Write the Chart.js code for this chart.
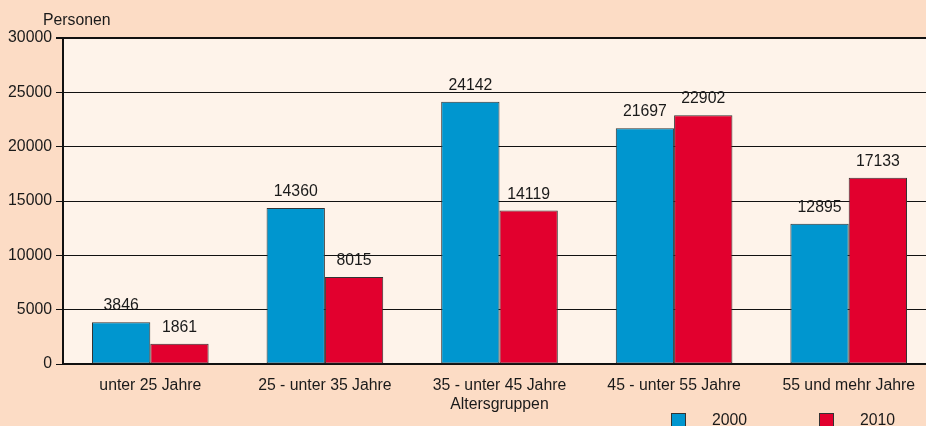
<!DOCTYPE html>
<html lang="de">
<head>
<meta charset="utf-8">
<title>Personen nach Altersgruppen</title>
<script src="https://cdn.jsdelivr.net/npm/chart.js@4"></script>
<style>
  html, body {
    margin: 0;
    padding: 0;
    width: 926px;
    height: 426px;
    overflow: hidden;
    background: #fcdcc5;
    font-family: "Liberation Sans", Arial, sans-serif;
  }
  #wrap { position: relative; width: 926px; height: 426px; overflow: hidden; }
  #chart { position: absolute; left: 0; top: 0; }
  .lbl { position: absolute; font-size: 15.8px; line-height: 1; color: #1a1a1a; white-space: nowrap; }
  .box { position: absolute; width: 13px; height: 13px; border: 1px solid #333; }
</style>
</head>
<body>
<div id="wrap">
  <canvas id="chart" width="936" height="426"></canvas>
  <div class="lbl" style="left:43px; top:12px;">Personen</div>
  <div class="box" style="left:671px; top:413px; background:#0096cf;"></div>
  <div class="lbl" style="left:712px; top:412px;">2000</div>
  <div class="box" style="left:819px; top:413px; background:#e2002e;"></div>
  <div class="lbl" style="left:860px; top:412px;">2010</div>
</div>
<script>
/* ---- data ---- */
const categories = ["unter 25 Jahre", "25 - unter 35 Jahre", "35 - unter 45 Jahre", "45 - unter 55 Jahre", "55 und mehr Jahre"];
const values2000 = [3846, 14360, 24142, 21697, 12895];
const values2010 = [1861, 8015, 14119, 22902, 17133];
const yTicks = [0, 5000, 10000, 15000, 20000, 25000, 30000];

const FONT = { family: "'Liberation Sans', Arial, sans-serif", size: 15.8 };
const TEXT = "#1a1a1a";

/* inner plot background */
const plotBg = {
  id: "plotBg",
  beforeDraw(chart) {
    const a = chart.chartArea;
    const ctx = chart.ctx;
    ctx.save();
    ctx.fillStyle = "#fef3ea";
    ctx.fillRect(a.left, a.top, a.right - a.left, a.bottom - a.top);
    ctx.restore();
  }
};

/* value labels above bars */
const valueLabels = {
  id: "valueLabels",
  afterDatasetsDraw(chart) {
    const ctx = chart.ctx;
    ctx.save();
    ctx.font = FONT.size + "px " + FONT.family;
    ctx.fillStyle = TEXT;
    ctx.textAlign = "center";
    ctx.textBaseline = "alphabetic";
    chart.data.datasets.forEach((ds, i) => {
      chart.getDatasetMeta(i).data.forEach((bar, j) => {
        ctx.fillText(String(ds.data[j]), bar.x, bar.y - 12);
      });
    });
    ctx.restore();
  }
};

new Chart(document.getElementById("chart"), {
  type: "bar",
  data: {
    labels: categories,
    datasets: [
      {
        label: "2000",
        data: values2000,
        backgroundColor: "#0096cf",
        borderColor: "#333",
        borderWidth: 1,
        borderSkipped: false
      },
      {
        label: "2010",
        data: values2010,
        backgroundColor: "#e2002e",
        borderColor: "#333",
        borderWidth: 1,
        borderSkipped: false
      }
    ]
  },
  options: {
    responsive: false,
    animation: false,
    devicePixelRatio: 1,
    layout: { padding: { top: 38, right: 0, bottom: 0, left: 0 } },
    categoryPercentage: 0.668,
    barPercentage: 1,
    plugins: {
      legend: { display: false },
      tooltip: { enabled: false }
    },
    scales: {
      x: {
        grid: { display: false },
        border: { display: true, color: "#111", width: 2 },
        ticks: { color: TEXT, font: FONT, padding: 4, maxRotation: 0 },
        title: {
          display: true,
          text: "Altersgruppen",
          color: TEXT,
          font: FONT,
          padding: { top: 0, bottom: 12 }
        },
        afterFit(scale) { scale.height = 62; }
      },
      y: {
        min: 0,
        max: 30000,
        afterBuildTicks(scale) { scale.ticks = yTicks.map(v => ({ value: v })); },
        grid: {
          color: "#111",
          lineWidth: c => (c.tick && c.tick.value === 30000 ? 2 : 1),
          tickLength: 7,
          tickColor: "#111"
        },
        border: { display: true, color: "#111", width: 2 },
        ticks: { color: TEXT, font: FONT, padding: 4, callback: v => String(v) },
        afterFit(scale) { scale.width = 63; }
      }
    }
  },
  plugins: [plotBg, valueLabels]
});
</script>
</body>
</html>
